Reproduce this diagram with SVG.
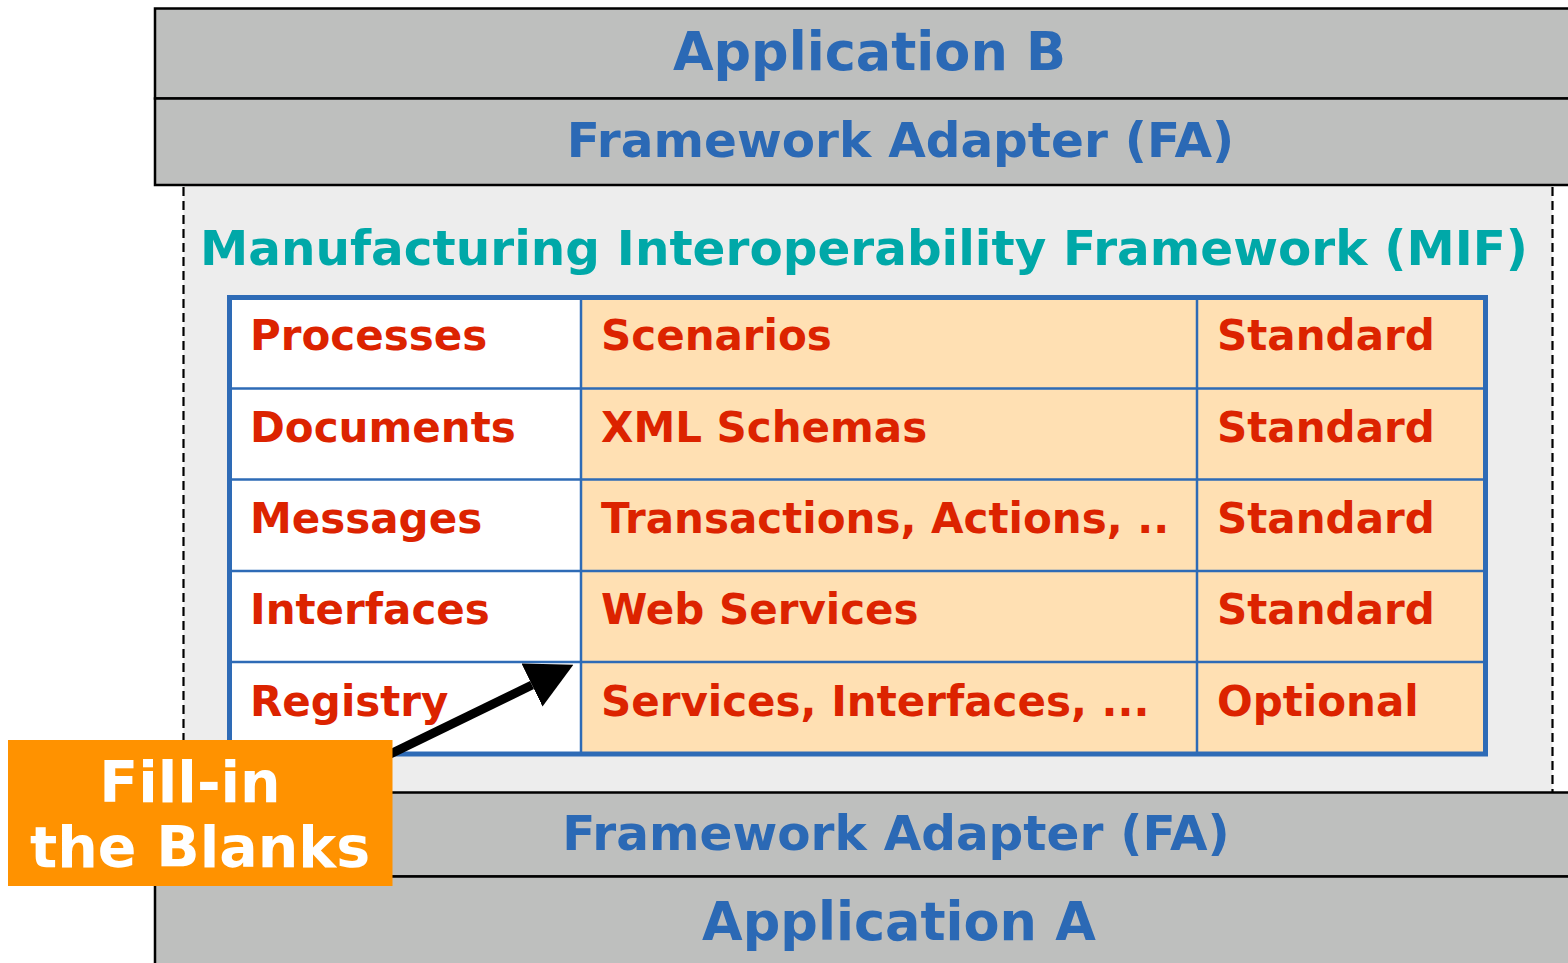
<svg xmlns="http://www.w3.org/2000/svg" width="1568" height="963" viewBox="0 0 1568 963">
<defs>
<style>
.layer{fill:#BEBFBE;stroke:#000;stroke-width:2.5}
.dash{stroke:#000;stroke-width:2.2;stroke-dasharray:9 5;fill:none}
.blue{font-family:"DejaVu Sans",Verdana,sans-serif;font-weight:bold;fill:#2B69B5;text-anchor:middle}
.teal{font-family:"DejaVu Sans",Verdana,sans-serif;font-weight:bold;fill:#00A8A8;font-size:48px}
.cell{font-family:"DejaVu Sans",Verdana,sans-serif;font-weight:bold;fill:#DC2300;font-size:42px}
.grid{stroke:#2E6BB6;stroke-width:2.5;fill:none}
.white{font-family:"DejaVu Sans",Verdana,sans-serif;font-weight:bold;fill:#FFFFFF;font-size:57px}
</style>
<marker id="ah" markerUnits="userSpaceOnUse" viewBox="0 0 46 48" refX="0" refY="24" markerWidth="46" markerHeight="48" orient="auto">
<path d="M0,0 L46,24 L0,48 Z" fill="#000"/>
</marker>
</defs>
<rect width="1568" height="963" fill="#FFFFFF"/>

<g id="mif">
<rect x="183.5" y="185" width="1369" height="607" fill="#EDEDED"/>
<line class="dash" x1="183.5" y1="187" x2="183.5" y2="792"/>
<line class="dash" x1="1552.5" y1="187" x2="1552.5" y2="792"/>
<text class="teal" x="200" y="265" textLength="1328" lengthAdjust="spacingAndGlyphs">Manufacturing Interoperability Framework (MIF)</text>
</g>

<g id="app-b">
<rect class="layer" x="155" y="8.5" width="1420" height="90"/>
<text class="blue" x="869.5" y="70" font-size="52.5">Application B</text>
</g>
<g id="fa-top">
<rect class="layer" x="155" y="98.5" width="1420" height="86.5"/>
<text class="blue" x="900.5" y="157" font-size="48.5">Framework Adapter (FA)</text>
</g>

<g id="fa-bottom">
<rect class="layer" x="155" y="792.5" width="1420" height="84"/>
<text class="blue" x="896" y="850" font-size="48.5">Framework Adapter (FA)</text>
</g>
<g id="app-a">
<rect class="layer" x="155" y="876.5" width="1420" height="100"/>
<text class="blue" x="899" y="940" font-size="52.5">Application A</text>
</g>

<g id="table">
<rect x="229.5" y="297.5" width="351.5" height="456" fill="#FFFFFF"/>
<rect x="581" y="297.5" width="904" height="456" fill="#FFE0B3"/>
<line class="grid" x1="581" y1="297" x2="581" y2="754"/>
<line class="grid" x1="1197" y1="297" x2="1197" y2="754"/>
<line class="grid" x1="229" y1="388.5" x2="1486" y2="388.5"/>
<line class="grid" x1="229" y1="479.5" x2="1486" y2="479.5"/>
<line class="grid" x1="229" y1="571" x2="1486" y2="571"/>
<line class="grid" x1="229" y1="662" x2="1486" y2="662"/>
<rect x="229.5" y="297.5" width="1256" height="456.5" fill="none" stroke="#2E6BB6" stroke-width="5"/>
</g>

<g id="row-processes">
<text class="cell" x="250" y="350">Processes</text>
<text class="cell" x="601" y="350">Scenarios</text>
<text class="cell" x="1217" y="350">Standard</text>
</g>
<g id="row-documents">
<text class="cell" x="250" y="442">Documents</text>
<text class="cell" x="601" y="442">XML Schemas</text>
<text class="cell" x="1217" y="442">Standard</text>
</g>
<g id="row-messages">
<text class="cell" x="250" y="533">Messages</text>
<text class="cell" x="601" y="533">Transactions, Actions, ..</text>
<text class="cell" x="1217" y="533">Standard</text>
</g>
<g id="row-interfaces">
<text class="cell" x="250" y="624">Interfaces</text>
<text class="cell" x="601" y="624">Web Services</text>
<text class="cell" x="1217" y="624">Standard</text>
</g>
<g id="row-registry">
<text class="cell" x="250" y="716">Registry</text>
<text class="cell" x="601" y="716">Services, Interfaces, ...</text>
<text class="cell" x="1217" y="716">Optional</text>
</g>

<g id="connectors">
<line x1="380" y1="759" x2="532" y2="685" stroke="#000" stroke-width="9" marker-end="url(#ah)"/>
</g>

<g id="callout">
<rect x="8" y="740" width="384.5" height="146" fill="#FF9200"/>
<text class="white" x="190" y="802" text-anchor="middle">Fill-in</text>
<text class="white" x="200" y="867" text-anchor="middle">the Blanks</text>
</g>
</svg>
